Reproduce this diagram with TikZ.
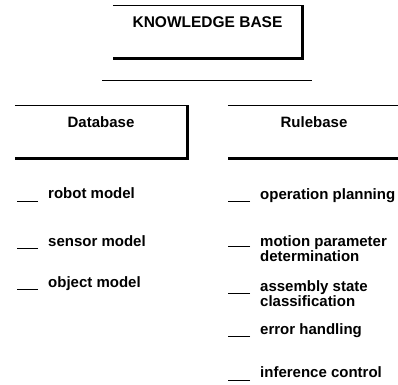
\documentclass[tikz,border=0pt]{standalone}
\usepackage{fontspec}
\setmainfont{Liberation Sans}
\begin{document}
\begin{tikzpicture}
    [
    x=1pt, y=-1pt,
    panel/.style={inner sep=0pt, text height=22pt, text depth=31pt,
      font=\bfseries\fontsize{15}{16}\selectfont},
    entry/.style={inner sep=0pt, anchor=base west, align=left,
      font=\bfseries\fontsize{15}{15}\selectfont},
    rim/.style={line width=0.8pt},
    shade/.style={line width=3pt},
    tick/.style={line width=0.9pt},
    ]
    \useasboundingbox (0,0) rectangle (398,384);

    % the three panels
    \node[panel, minimum width=189pt, font=\bfseries\fontsize{15.5}{17}\selectfont]
      (kb) at (207.5,5) [anchor=north] {KNOWLEDGE BASE};
    \node[panel, minimum width=172pt] (db) at (101,105) [anchor=north] {Database};
    \node[panel, minimum width=172pt] (rb) at (314,105) [anchor=north] {Rulebase};

    \draw[rim] (kb.north west) -- (kb.north east);
    \draw[shade] (kb.north east) -- (kb.south east) -- (kb.south west);
    \draw[rim] (db.north west) -- (db.north east);
    \draw[shade] (db.north east) -- (db.south east) -- (db.south west);
    \draw[rim] (rb.north west) -- (rb.north east);
    \draw[shade] (rb.north east) -- (rb.south east) -- (rb.south west);

    % separator
    \draw[rim] (102,80) -- (312,80);

    % database entries
    \node[entry] (d1) at (48,198) {robot model};
    \node[entry] (d2) at (48,246) {sensor model};
    \node[entry] (d3) at (48,287) {object model};

    % rulebase entries (two-line ones sit on their last line)
    \node[entry] (r1) at (260,199) {operation planning};
    \node[entry] (r2) at (260,261) {motion parameter\\determination};
    \node[entry] (r3) at (260,306) {assembly state\\classification};
    \node[entry] (r4) at (260,334) {error handling};
    \node[entry] (r5) at (260,377) {inference control};

    \draw[tick] ([xshift=-10pt,yshift=-3pt]d1.base west) -- ++(-21,0);
    \draw[tick] ([xshift=-10pt,yshift=-2pt]d2.base west) -- ++(-21,0);
    \draw[tick] ([xshift=-10pt,yshift=-2pt]d3.base west) -- ++(-21,0);
    \draw[tick] ([xshift=-10pt,yshift=-2pt]r1.base west) -- ++(-22,0);
    \draw[tick] ([xshift=-10pt,yshift=15pt]r2.base west) -- ++(-22,0);
    \draw[tick] ([xshift=-10pt,yshift=13pt]r3.base west) -- ++(-22,0);
    \draw[tick] ([xshift=-10pt,yshift=-2pt]r4.base west) -- ++(-22,0);
    \draw[tick] ([xshift=-10pt,yshift=-3pt]r5.base west) -- ++(-22,0);
\end{tikzpicture}
\end{document}
